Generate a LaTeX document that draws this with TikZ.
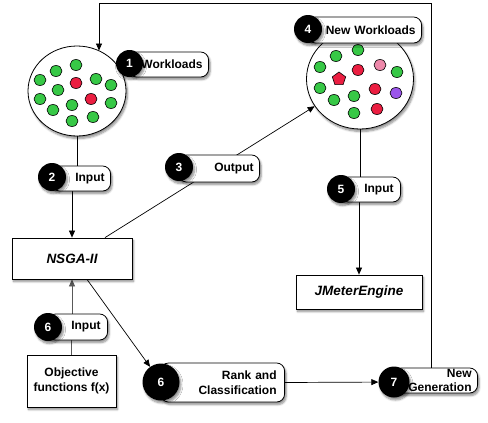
\documentclass[tikz,border=0pt]{standalone}
\usepackage{fontspec}
\setmainfont{Liberation Sans}
\usetikzlibrary{shadows,shadows.blur,arrows.meta,shapes.geometric}
\definecolor{dgreen}{RGB}{55,200,70}
\definecolor{dred}{RGB}{235,30,65}
\definecolor{dpink}{RGB}{238,136,170}
\definecolor{dpurple}{RGB}{155,85,235}
\pgfdeclarelayer{bg}
\pgfsetlayers{bg,main}
\begin{document}
\begin{tikzpicture}[x=1pt,y=-1pt,
  every node/.style={font=\fontsize{12}{14}\selectfont\bfseries},
  shad/.style={blur shadow={shadow xshift=1.5pt,shadow yshift=-2.5pt,shadow blur radius=2pt,shadow blur steps=6,shadow opacity=45}},
  pool/.style={ellipse,draw,line width=0.8pt,fill=white,shad,inner sep=0pt},
  dot/.style={ellipse,draw,line width=0.6pt,minimum width=12pt,minimum height=11pt,inner sep=0pt},
  badge/.style={circle,fill=black,text=white,inner sep=0pt,shad},
  tagbox/.style={draw,line width=0.8pt,fill=white,rounded corners=8pt,shad,anchor=east,align=right,inner xsep=6pt,inner ysep=0pt},
  box/.style={draw,line width=0.8pt,fill=white,shad,inner sep=0pt},
  conn/.style={line width=0.7pt},
  arr/.style={conn,-{Triangle[length=7pt,width=6pt]}},
]
\useasboundingbox (0,0) rectangle (488,423);

% pools
\node[pool,minimum width=98pt,minimum height=90pt] (pool1) at (77,91) {};
\node[pool,minimum width=107pt,minimum height=100pt] (pool2) at (360,79) {};

% dots in pool 1
\foreach \x/\y/\c [count=\i] in {76/65/dgreen,56/71/dgreen,40/80/dgreen,76/83/dred,96/79/dgreen,111/85/dgreen,58/90/dgreen,40/99/dgreen,91/99/dred,111/103/dgreen,53/110/dgreen,72/105/dgreen,72/121/dgreen,93/117/dgreen}
  \node[dot,fill=\c] (da\i) at (\x,\y) {};

% dots in pool 2
\foreach \x/\y/\c [count=\i] in {358/50/dgreen,336/56/dgreen,320/67/dgreen,358/70/dred,380/65/dpink,397/72/dgreen,320/88/dgreen,334/100/dgreen,354/96/dgreen,375/89/dred,396/93/dpurple,354/113/dgreen,377/109/dred}
  \node[dot,fill=\c] (db\i) at (\x,\y) {};
\node[regular polygon,regular polygon sides=5,draw,line width=0.6pt,fill=dred,minimum size=14pt,inner sep=0pt] (pent) at (339,79) {};

% boxes
\node[box,minimum width=120pt,minimum height=41pt,font=\fontsize{13.5}{16}\selectfont\bfseries\itshape] (nsga) at (72,258.5) {NSGA-II};
\node[box,minimum width=126pt,minimum height=34pt,font=\fontsize{13.5}{16}\selectfont\bfseries\itshape] (jm) at (359,292) {JMeterEngine};
\node[box,minimum width=89pt,minimum height=52pt,align=center,font=\fontsize{12}{15}\selectfont\bfseries] (obj) at (71.5,381) {Objective\\functions f(x)};

% tags
\node[tagbox,text width=68pt,minimum height=25pt] (l1) at (209,64.5) {Workloads};
\node[badge,minimum size=27pt] (n1) at (129.5,63.5) {1};
\node[tagbox,text width=47pt,minimum height=25pt] (l2) at (111,178.5) {Input};
\node[badge,minimum size=28pt] (n2) at (52,177) {2};
\node[tagbox,text width=69pt,minimum height=27pt] (l3) at (260,168.5) {Output};
\node[badge,minimum size=28pt] (n3) at (179,167) {3};
\node[tagbox,text width=102pt,minimum height=26pt] (l4) at (422,30) {New Workloads};
\node[badge,minimum size=28pt] (n4) at (308,29) {4};
\node[tagbox,text width=46pt,inner xsep=7pt,minimum height=25pt] (l5) at (401,189.5) {Input};
\node[badge,minimum size=28pt] (n5) at (341,189) {5};
\node[tagbox,text width=46pt,inner xsep=7pt,minimum height=26pt] (l6) at (108,327) {Input};
\node[badge,minimum size=28pt] (n6) at (48,327) {6};
\node[tagbox,text width=108pt,inner xsep=8pt,minimum height=39pt,font=\fontsize{12}{15}\selectfont\bfseries] (rank) at (285,382.5) {Rank and\\Classification};
\node[badge,minimum size=37pt] (n6b) at (161,382) {6};
\node[tagbox,text width=72pt,minimum height=25pt,font=\fontsize{12}{14}\selectfont\bfseries] (l7) at (478,380.5) {New\\Generation};
\node[badge,minimum size=31pt] (n7) at (394,382) {7};

\coordinate (fbA) at (431,3);
\coordinate (fbB) at (99,3);
\coordinate (outx) at (105,0);
\coordinate (rkx) at (87,0);

\begin{pgfonlayer}{bg}
  \draw[conn] (pool1.south) -- (pool1.south |- l2.north);
  \draw[arr] (l2.south -| nsga.north) -- (nsga.north);
  \draw[arr] (nsga.north -| outx) -- (pool2.211);
  \draw[conn] (pool2.south) -- (pool2.south |- l5.north);
  \draw[arr] (l5.south -| jm.north) -- (jm.north);
  \draw[conn,black!65] (obj.north) -- (obj.north |- l6.south);
  \draw[arr,black!65] (l6.north -| nsga.south) -- (nsga.south);
  \draw[arr] (nsga.south -| rkx) -- (n6b);
  \draw[arr] (rank.east) -- (n7);
  \draw[arr] (l7.north -| fbA) -- (fbA) -- (fbB) -- (fbB |- pool1.61);
\end{pgfonlayer}
\end{tikzpicture}
\end{document}
